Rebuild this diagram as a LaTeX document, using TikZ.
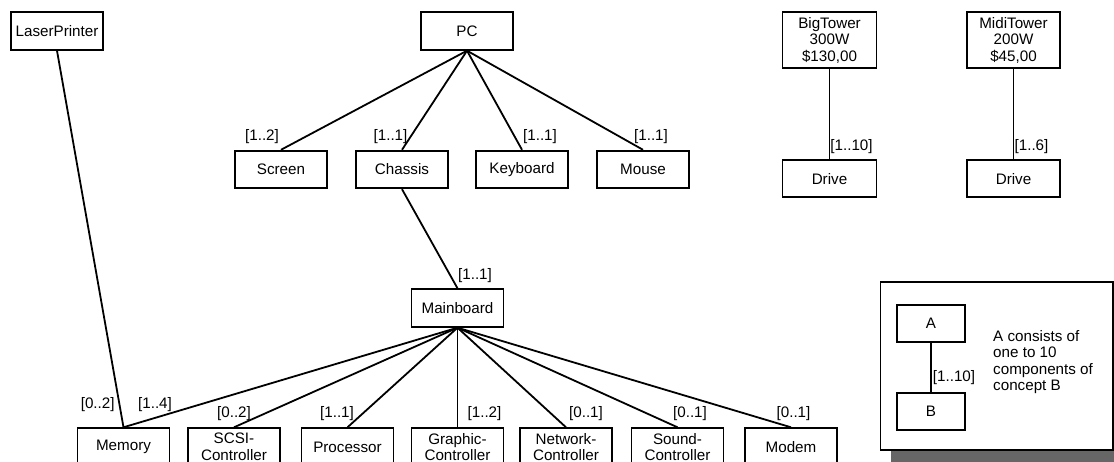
\documentclass[tikz,border=0pt]{standalone}
\usepackage{fontspec}
\setmainfont{Liberation Sans}
\begin{document}
\begin{tikzpicture}[x=1pt,y=-1pt,
  every node/.style={font=\fontsize{15.2}{16.6}\selectfont, inner sep=0pt},
  concept/.style={draw, line width=1.9pt, minimum width=92pt, minimum height=37.5pt, align=center, fill=white},
  small/.style={concept, minimum width=68pt, minimum height=36.7pt},
  link/.style={line width=1.8pt}]
\clip (0,0) rectangle (1114,462);
\fill[white] (0,0) rectangle (1114,462);
% legend frame with shadow
\fill[black!60] (891,292) rectangle (1124,470);
\draw[line width=1.9pt, fill=white] (880.5,282) rectangle (1113,450);
% top nodes
\node[concept] (laser) at (57,31) {LaserPrinter};
\node[concept] (pc) at (467,31) {PC};
\node[concept] (screen) at (281,169.5) {Screen};
\node[concept] (chassis) at (402,169.5) {Chassis};
\node[concept] (keyboard) at (522,169.5) {Keyboard};
\node[concept] (mouse) at (643,169.5) {Mouse};
\node[concept, minimum width=94pt, minimum height=56pt] (big) at (829.5,40.3) {BigTower\\300W\\\$130,00};
\node[concept, minimum width=94pt, minimum height=37.3pt] (drive1) at (829.5,178.7) {Drive};
\node[concept, minimum width=93pt, minimum height=56pt] (midi) at (1013.5,40.3) {MidiTower\\200W\\\$45,00};
\node[concept, minimum width=93pt, minimum height=37.3pt] (drive2) at (1013.5,178.7) {Drive};
\node[concept] (mainboard) at (457.5,308) {Mainboard};
% bottom nodes
\node[concept] (memory) at (123.5,447) {Memory};
\node[concept] (scsi) at (234,447) {SCSI-\\Controller};
\node[concept] (processor) at (347.5,447) {Processor};
\node[concept] (graphic) at (457.5,447) {Graphic-\\Controller};
\node[concept] (network) at (566,447) {Network-\\Controller};
\node[concept] (sound) at (677.5,447) {Sound-\\Controller};
\node[concept] (modem) at (791,447) {Modem};
% legend nodes
\node[small] (a) at (931,323.3) {A};
\node[small] (b) at (931,411.7) {B};
\node[anchor=west, align=left] (legtext) at (993,362) {A consists of\\one to 10\\components of\\concept B};
% connectors
\draw[link] (pc.south) -- (screen.north);
\draw[link] (pc.south) -- (chassis.north);
\draw[link] (pc.south) -- (keyboard.north);
\draw[link] (pc.south) -- (mouse.north);
\draw[link] (chassis.south) -- (mainboard.north);
\draw[link] (laser.south) -- (memory.north);
\foreach \n in {memory,scsi,processor,graphic,network,sound,modem}
  \draw[link] (mainboard.south) -- (\n.north);
\draw[link] (big.south) -- (drive1.north);
\draw[link] (midi.south) -- (drive2.north);
\draw[link] (a.south) -- (b.north);
% multiplicity labels
\node (l1) at (262,136.7) {[1..2]};
\node (l2) at (390.5,136.7) {[1..1]};
\node (l3) at (540,136.7) {[1..1]};
\node (l4) at (651,136.7) {[1..1]};
\node (l5) at (851.5,146.7) {[1..10]};
\node (l6) at (1031.5,146.7) {[1..6]};
\node (l7) at (475,276) {[1..1]};
\node (l8) at (97.7,405) {[0..2]};
\node (l9) at (155,405) {[1..4]};
\node (l10) at (234,414) {[0..2]};
\node (l11) at (337,414) {[1..1]};
\node (l12) at (484.5,414) {[1..2]};
\node (l13) at (586,414) {[0..1]};
\node (l14) at (690,414) {[0..1]};
\node (l15) at (793.5,414) {[0..1]};
\node (l16) at (954,378) {[1..10]};
\end{tikzpicture}
\end{document}
